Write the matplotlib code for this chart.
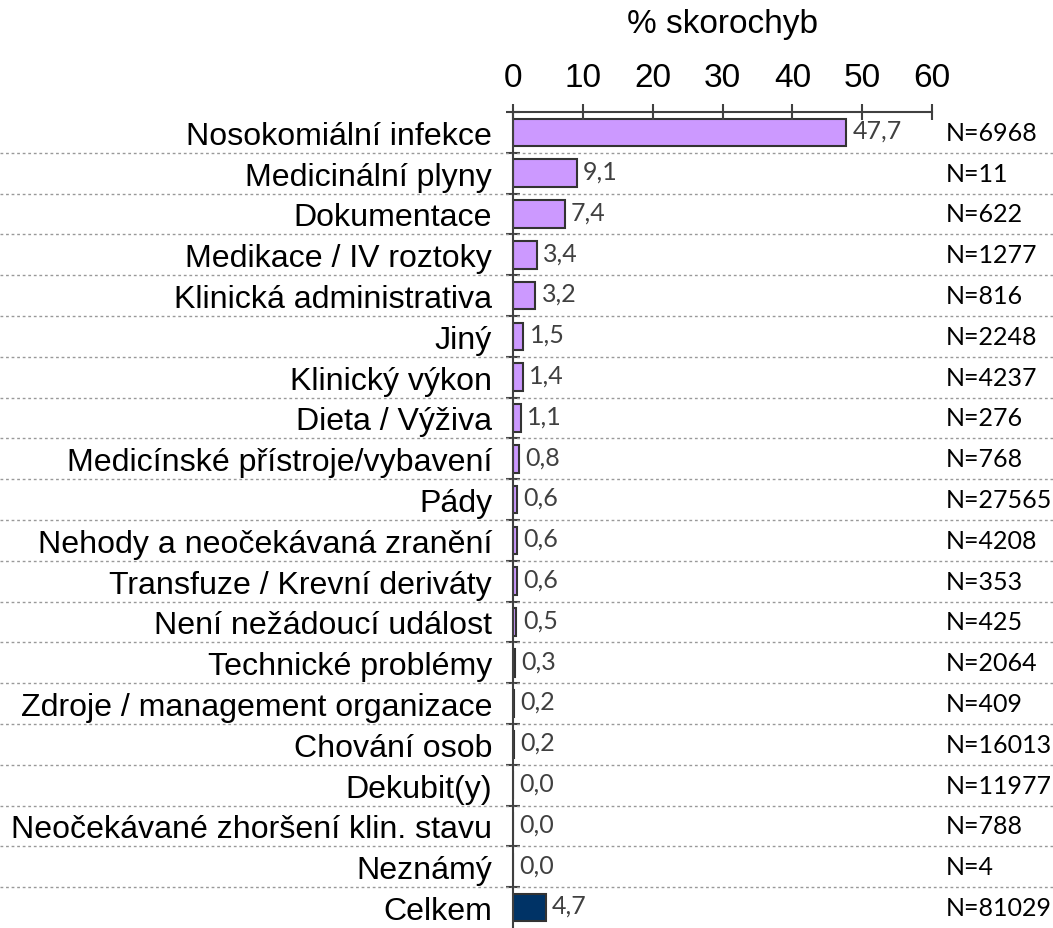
import matplotlib.pyplot as plt
from matplotlib.transforms import blended_transform_factory

categories = ['Nosokomiální infekce', 'Medicinální plyny', 'Dokumentace',
              'Medikace / IV roztoky', 'Klinická administrativa', 'Jiný',
              'Klinický výkon', 'Dieta / Výživa', 'Medicínské přístroje/vybavení',
              'Pády', 'Nehody a neočekávaná zranění', 'Transfuze / Krevní deriváty',
              'Není nežádoucí událost', 'Technické problémy',
              'Zdroje / management organizace', 'Chování osob', 'Dekubit(y)',
              'Neočekávané zhoršení klin. stavu', 'Neznámý', 'Celkem']
values = [47.7, 9.1, 7.4, 3.4, 3.2, 1.5, 1.4, 1.1, 0.8, 0.6, 0.6, 0.6, 0.5,
          0.3, 0.2, 0.2, 0.0, 0.0, 0.0, 4.7]
counts = [6968, 11, 622, 1277, 816, 2248, 4237, 276, 768, 27565, 4208, 353,
          425, 2064, 409, 16013, 11977, 788, 4, 81029]
xticks = [0, 10, 20, 30, 40, 50, 60]

W, H = 1053, 929
fig = plt.figure(figsize=(W / 100, H / 100), dpi=100)

# osy: 0 na x=513, 60 na x=932, horní hrana na y=113
row_h = 40.8
top = 113
bottom = top + row_h * 20
ax = fig.add_axes([513 / W, 1 - bottom / H, (932 - 513) / W, (bottom - top) / H])

ypos = list(range(len(categories)))
colors = ['#CC99FF'] * (len(categories) - 1) + ['#003366']
ax.barh(ypos, values, height=0.68, color=colors, edgecolor='#333333', linewidth=1.5)

ax.set_xlim(0, 60)
ax.set_ylim(19.5, -0.5)

# horní osa x
ax.xaxis.tick_top()
ax.xaxis.set_label_position('top')
ax.set_xticks(xticks)
ax.set_xticklabels([str(t) for t in xticks], fontsize=24, family='Liberation Sans')
ax.tick_params(axis='x', direction='inout', length=12, width=1.5, color='#404040', pad=8)
ax.set_xlabel('% skorochyb', fontsize=24, family='Liberation Sans', labelpad=21)

# kategorie
ax.set_yticks(ypos)
ax.set_yticklabels(categories, fontsize=23.1, family='Liberation Sans')
ax.tick_params(axis='y', which='major', length=0, pad=15)
ax.set_yticks([i + 0.5 for i in range(-1, 19)], minor=True)
ax.tick_params(axis='y', which='minor', direction='inout', length=10, width=1.5, color='#404040')

for s in ['right', 'bottom']:
    ax.spines[s].set_visible(False)
for s in ['left', 'top']:
    ax.spines[s].set_color('#404040')
    ax.spines[s].set_linewidth(1.5)

# tečkované oddělovače přes celou šířku
tr = blended_transform_factory(fig.transFigure, ax.transData)
for i in range(19):
    ax.plot([0, 1], [i + 0.5, i + 0.5], transform=tr, clip_on=False,
            color='#999999', linestyle=(0, (2, 2)), linewidth=1)

# hodnoty a počty
for y, v, n in zip(ypos, values, counts):
    ax.text(v + 0.9, y - 0.05, f'{v:.1f}'.replace('.', ','), va='center', ha='left',
            fontsize=18, family='Lato', color='#404040')
    ax.text(946 / W, y, f'N={n}', transform=tr, va='center', ha='left',
            fontsize=18, family='Lato', color='black')

fig.savefig('out.png', dpi=100)
